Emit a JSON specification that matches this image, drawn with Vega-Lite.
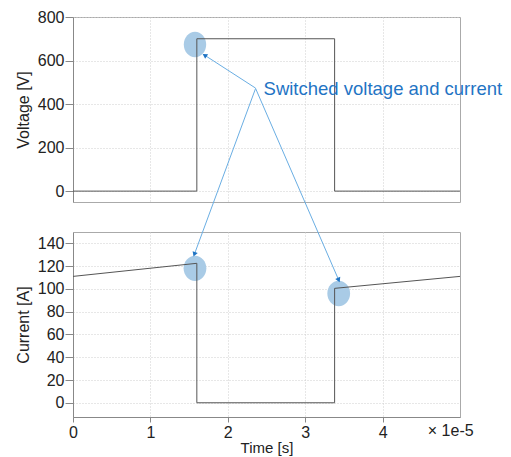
{
  "$schema": "https://vega.github.io/schema/vega-lite/v6.json",
  "padding": {"left": 14, "top": 8, "right": 2, "bottom": 0},
  "spacing": 30,
  "bounds": "flush",
  "config": {
    "font": "Liberation Sans",
    "view": {"stroke": "#aaa"},
    "axis": {
      "labelFont": "Liberation Sans", "labelFontSize": 16, "labelColor": "#222", "labelOverlap": false,
      "titleFont": "Liberation Sans", "titleFontSize": 16, "titleFontWeight": "normal", "titleColor": "#222",
      "domainColor": "#888", "tickColor": "#888", "gridColor": "#cfcfcf", "gridDash": [1, 2], "labelFlush": false
    }
  },
  "vconcat": [
    {
      "width": 387,
      "height": 185,
      "layer": [
        {
          "data": {"values": [{"t": 0.00001576, "v": 673.5}]},
          "mark": {"type": "point", "shape": "M -0.875 0 A 0.875 1 0 1 1 0.875 0 A 0.875 1 0 1 1 -0.875 0 Z", "filled": true, "size": 655, "color": "#a9cbe6", "opacity": 1},
          "encoding": {
            "x": {"field": "t", "type": "quantitative", "scale": {"domain": [0, 0.00005], "nice": false},
                  "axis": {"values": [0.00001, 0.00002, 0.00003, 0.00004], "tickCount": 10, "labels": false, "ticks": false, "domain": false, "title": null, "grid": true}},
            "y": {"field": "v", "type": "quantitative", "scale": {"domain": [-50, 800], "nice": false},
                  "axis": {"values": [0, 200, 400, 600, 800], "tickCount": 10, "title": "Voltage [V]", "tickSize": 8, "labelPadding": 1, "titlePadding": 6, "grid": true, "labelOverlap": false}}
          }
        },
        {
          "data": {"values": [
            {"t": 0, "v": 0}, {"t": 0.0000160, "v": 0}, {"t": 0.0000160, "v": 700},
            {"t": 0.0000338, "v": 700}, {"t": 0.0000338, "v": 0}, {"t": 0.00005, "v": 0}
          ]},
          "mark": {"type": "line", "color": "#555", "strokeWidth": 1, "interpolate": "linear"},
          "encoding": {
            "x": {"field": "t", "type": "quantitative"},
            "y": {"field": "v", "type": "quantitative"},
            "order": {"value": 0}
          }
        },
        {
          "mark": {"type": "rule", "color": "#666", "strokeWidth": 1},
          "encoding": {"y": {"datum": -50}}
        },
        {
          "data": {"values": [{"t": 0.00002359, "v": 473.3, "t2": 0.00001701, "v2": 624.5}]},
          "mark": {"type": "rule", "color": "#6aaee3", "strokeWidth": 1, "clip": false},
          "encoding": {
            "x": {"field": "t", "type": "quantitative"},
            "y": {"field": "v", "type": "quantitative"},
            "x2": {"field": "t2"},
            "y2": {"field": "v2"}
          }
        },
        {
          "data": {"values": [{"t": 0.00001701, "v": 624.5}]},
          "mark": {"type": "point", "shape": "triangle-up", "filled": true, "size": 30, "angle": 303, "color": "#1f74c4", "opacity": 1},
          "encoding": {
            "x": {"field": "t", "type": "quantitative"},
            "y": {"field": "v", "type": "quantitative"}
          }
        },
        {
          "data": {"values": [{"t": 0.00002462, "v": 470, "label": "Switched voltage and current"}]},
          "mark": {"type": "text", "align": "left", "baseline": "middle", "fontSize": 18.5, "font": "Liberation Sans", "color": "#1f74c4", "clip": false},
          "encoding": {
            "x": {"field": "t", "type": "quantitative"},
            "y": {"field": "v", "type": "quantitative"},
            "text": {"field": "label"}
          }
        }
      ]
    },
    {
      "width": 387,
      "height": 185,
      "layer": [
        {
          "data": {"values": [{"t": 0.00001576, "i": 118.1}, {"t": 0.00003433, "i": 96.0}]},
          "mark": {"type": "point", "shape": "M -0.9 0 A 0.9 1 0 1 1 0.9 0 A 0.9 1 0 1 1 -0.9 0 Z", "filled": true, "size": 640, "color": "#a9cbe6", "opacity": 1},
          "encoding": {
            "x": {"field": "t", "type": "quantitative", "scale": {"domain": [0, 0.00005], "nice": false},
                  "axis": {"values": [0, 0.00001, 0.00002, 0.00003, 0.00004], "tickCount": 10, "labelExpr": "format(datum.value*1e5, '.0f')", "title": "Time [s]", "titleFontSize": 15, "tickSize": 5, "labelPadding": 2, "titlePadding": 0, "grid": true}},
            "y": {"field": "i", "type": "quantitative", "scale": {"domain": [-12.5, 150], "nice": false},
                  "axis": {"values": [0, 20, 40, 60, 80, 100, 120, 140], "tickCount": 20, "title": "Current [A]", "tickSize": 8, "labelPadding": 1, "titlePadding": 6, "grid": true, "labelOverlap": false}}
          }
        },
        {
          "data": {"values": [
            {"t": 0, "i": 111}, {"t": 0.0000160, "i": 122.5}, {"t": 0.0000160, "i": 0},
            {"t": 0.0000338, "i": 0}, {"t": 0.0000338, "i": 100.5}, {"t": 0.00005, "i": 111}
          ]},
          "mark": {"type": "line", "color": "#555", "strokeWidth": 1},
          "encoding": {
            "x": {"field": "t", "type": "quantitative"},
            "y": {"field": "i", "type": "quantitative"},
            "order": {"value": 0}
          }
        },
        {
          "mark": {"type": "rule", "color": "#555", "strokeWidth": 1.5},
          "encoding": {"y": {"datum": 150}}
        },
        {
          "data": {"values": [
            {"t": 0.00002359, "i": 276.1, "t2": 0.00001568, "i2": 130.4},
            {"t": 0.00002359, "i": 276.1, "t2": 0.00003433, "i2": 107.8}
          ]},
          "mark": {"type": "rule", "color": "#6aaee3", "strokeWidth": 1, "clip": false},
          "encoding": {
            "x": {"field": "t", "type": "quantitative"},
            "y": {"field": "i", "type": "quantitative"},
            "x2": {"field": "t2"},
            "y2": {"field": "i2"}
          }
        },
        {
          "data": {"values": [{"t": 0.00001568, "i": 130.4}]},
          "mark": {"type": "point", "shape": "triangle-up", "filled": true, "size": 30, "angle": 200, "color": "#1f74c4", "opacity": 1},
          "encoding": {
            "x": {"field": "t", "type": "quantitative"},
            "y": {"field": "i", "type": "quantitative"}
          }
        },
        {
          "data": {"values": [{"t": 0.00003433, "i": 107.8}]},
          "mark": {"type": "point", "shape": "triangle-up", "filled": true, "size": 30, "angle": 156.5, "color": "#1f74c4", "opacity": 1},
          "encoding": {
            "x": {"field": "t", "type": "quantitative"},
            "y": {"field": "i", "type": "quantitative"}
          }
        },
        {
          "data": {"values": [{"t": 0.0000488, "i": -24.8, "label": "× 1e-5"}]},
          "mark": {"type": "text", "align": "center", "baseline": "middle", "fontSize": 16, "font": "Liberation Sans", "color": "#222", "clip": false},
          "encoding": {
            "x": {"field": "t", "type": "quantitative"},
            "y": {"field": "i", "type": "quantitative"},
            "text": {"field": "label"}
          }
        }
      ]
    }
  ]
}
